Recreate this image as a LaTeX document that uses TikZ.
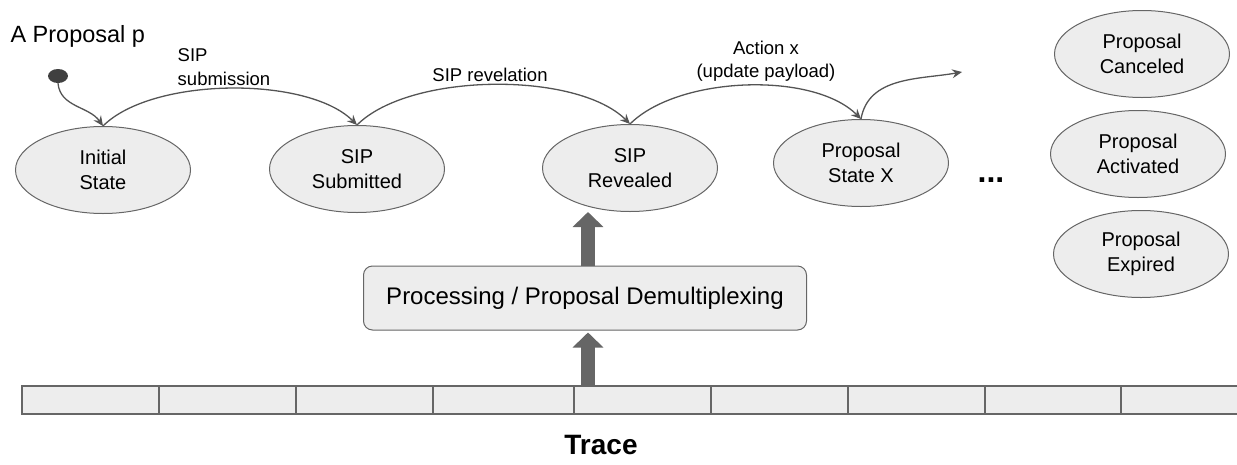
\documentclass[tikz,border=0pt]{standalone}
\usepackage{fontspec}
\setmainfont{Liberation Sans}
\usetikzlibrary{shapes.geometric,arrows.meta}

\begin{document}
\begin{tikzpicture}[x=1pt, y=-1pt,
	state/.style={ellipse, draw=black!60, fill=black!7, line width=1pt, minimum width=175pt, minimum height=87pt, inner sep=0pt, align=center, font=\fontsize{20}{25}\selectfont},
	lbl/.style={font=\fontsize{18.5}{23.5}\selectfont},
	flow/.style={draw=black!67, line width=1.3pt, -{Stealth[length=10pt, width=9pt, inset=3.5pt]}},
	blockarrow/.style={draw=black!60, line width=14pt, -{Triangle[length=15pt, width=30pt]}},
	cell/.style={draw=black!60, fill=black!7, line width=1.5pt}]
	\useasboundingbox (0, 0) rectangle (1237, 464);
	\node [anchor=west, font=\fontsize{23.5}{28}\selectfont] (title) at (7, 36) {A Proposal p};
	\node [ellipse, fill=black!75, minimum width=20pt, minimum height=14pt, inner sep=0pt] (start) at (58, 76) {};
	\node [state] (init) at (103, 170) {Initial\\State};
	\node [state] (sub) at (357, 169) {SIP\\Submitted};
	\node [state] (rev) at (630, 168) {SIP\\Revealed};
	\node [state] (stx) at (861, 163) {Proposal\\State X};
	\node [state] (cancel) at (1142, 54) {Proposal\\Canceled};
	\node [state] (active) at (1138, 154) {Proposal\\Activated};
	\node [state] (expire) at (1141, 254) {Proposal\\Expired};
	\node [font=\fontsize{32}{36}\selectfont\bfseries] (more) at (991, 180) {...};
	\node [lbl, align=left] (lsub) at (224, 67) {SIP\\submission};
	\node [lbl] (lrev) at (490, 75) {SIP revelation};
	\node [lbl, align=center] (lact) at (766, 61) {Action x\\(update payload)};
	\coordinate (next) at (962, 72);
	\draw [flow] (start.south) to [out=-85, in=125] (init.north);
	\draw [flow] (init.north) to [out=45, in=135, looseness=0.7] (sub.north);
	\draw [flow] (sub.north) to [out=45, in=135, looseness=0.7] (rev.north);
	\draw [flow] (rev.north) to [out=45, in=135, looseness=0.75] (stx.north);
	\draw [flow] (stx.north) to [out=80, in=190] (next);
	\node [draw=black!60, fill=black!7, line width=1pt, rounded corners=9pt, minimum width=443pt, minimum height=64pt, font=\fontsize{24}{29}\selectfont] (demux) at (585, 298) {Processing / Proposal Demultiplexing};
	\foreach \a/\b in {22/159, 159/296, 296/433, 433/574, 574/711, 711/848, 848/985, 985/1121, 1121/1258}
		\draw [cell] (\a, 386) rectangle (\b, 414);
	\coordinate (feed) at (588, 385);
	\node [font=\fontsize{28}{34}\selectfont\bfseries] (trace) at (601, 445) {Trace};
	\draw [blockarrow] ([xshift=3pt]demux.north) -- ([xshift=-42pt]rev.south);
	\draw [blockarrow] (feed) -- ([xshift=3pt, yshift=-2pt]demux.south);
\end{tikzpicture}
\end{document}
